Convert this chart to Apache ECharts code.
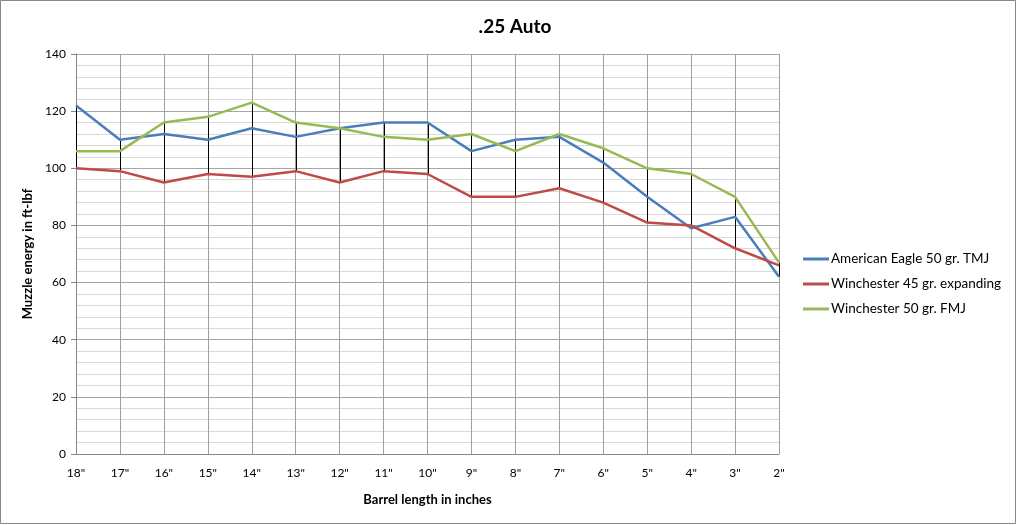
<!DOCTYPE html>
<html><head><meta charset="utf-8">
<script src="https://cdn.jsdelivr.net/npm/echarts@6/dist/echarts.min.js"></script>
<style>html,body{margin:0;padding:0;background:#fff}#c{width:1017px;height:525px}</style>
</head><body><div id="c"></div>
<script>
const categories = ['18"','17"','16"','15"','14"','13"','12"','11"','10"','9"','8"','7"','6"','5"','4"','3"','2"'];
const americanEagle = [122,110,112,110,114,111,114,116,116,106,110,111,102,90,79,83,62];
const win45 = [100,99,95,98,97,99,95,99,98,90,90,93,88,81,80,72,66];
const win50 = [106,106,116,118,123,116,114,111,110,112,106,112,107,100,98,90,67];
const seriesNames = ['American Eagle 50 gr. TMJ','Winchester 45 gr. expanding','Winchester 50 gr. FMJ'];
const colors = ['#4a7ebb','#be4b48','#98b954'];

const hiLo = categories.map((c,i)=>{
  const v=[americanEagle[i],win45[i],win50[i]];
  return [i, Math.min(...v), Math.max(...v)];
});
const font = 'Lato, "Open Sans", sans-serif';
const chart = echarts.init(document.getElementById('c'));
chart.setOption({
  animation:false,
  textStyle:{fontFamily:font},
  title:{text:'.25 Auto',left:510,textAlign:'center',top:12,textStyle:{fontSize:19,fontWeight:'bold',color:'#000',fontFamily:font}},
  graphic:[{type:'rect',shape:{x:0.5,y:0.5,width:1015,height:523},style:{fill:null,stroke:'#868686',lineWidth:1},silent:true}],
  grid:{left:76,right:238,top:54,bottom:71},
  legend:{orient:'vertical',left:798,top:247,itemGap:11,itemWidth:26,itemHeight:3,icon:'rect',
    textStyle:{fontSize:13.5,color:'#000',fontFamily:font,padding:[0,0,0,-3]},data:seriesNames},
  xAxis:{type:'category',data:categories,boundaryGap:false,
    name:'Barrel length in inches',nameLocation:'middle',nameGap:39,
    nameTextStyle:{fontSize:13,fontWeight:'bold',color:'#000'},
    axisLine:{lineStyle:{color:'#868686'}},axisTick:{show:false},
    axisLabel:{color:'#000',fontSize:12,margin:13},
    splitLine:{show:true,lineStyle:{color:'#a0a0a0',width:1}}},
  yAxis:{type:'value',min:0,max:140,interval:20,
    name:'Muzzle energy in ft-lbf',nameLocation:'middle',nameGap:40,
    nameTextStyle:{fontSize:13,fontWeight:'bold',color:'#000'},
    axisLine:{show:true,lineStyle:{color:'#868686'}},axisTick:{show:true,length:5,lineStyle:{color:'#868686'}},
    axisLabel:{color:'#000',fontSize:12,margin:10},
    splitLine:{show:true,lineStyle:{color:'#a6a6a6'}},
    minorTick:{show:false,splitNumber:5},
    minorSplitLine:{show:true,lineStyle:{color:'#d9d9d9'}}},
  series:[
    {type:'custom',data:hiLo,silent:true,z:1,
      renderItem:(params,api)=>{
        const a=api.coord([api.value(0),api.value(1)]);
        const b=api.coord([api.value(0),api.value(2)]);
        return {type:'line',shape:{x1:Math.round(a[0])+0.5,y1:a[1],x2:Math.round(b[0])+0.5,y2:b[1]},style:{stroke:'#000',lineWidth:1}};
      }},
    {name:seriesNames[0],type:'line',data:americanEagle,showSymbol:false,symbol:'none',z:3,lineStyle:{color:colors[0],width:2.5},itemStyle:{color:colors[0]}},
    {name:seriesNames[1],type:'line',data:win45,showSymbol:false,symbol:'none',z:3,lineStyle:{color:colors[1],width:2.5},itemStyle:{color:colors[1]}},
    {name:seriesNames[2],type:'line',data:win50,showSymbol:false,symbol:'none',z:3,lineStyle:{color:colors[2],width:2.5},itemStyle:{color:colors[2]}}
  ]
});
</script></body></html>
